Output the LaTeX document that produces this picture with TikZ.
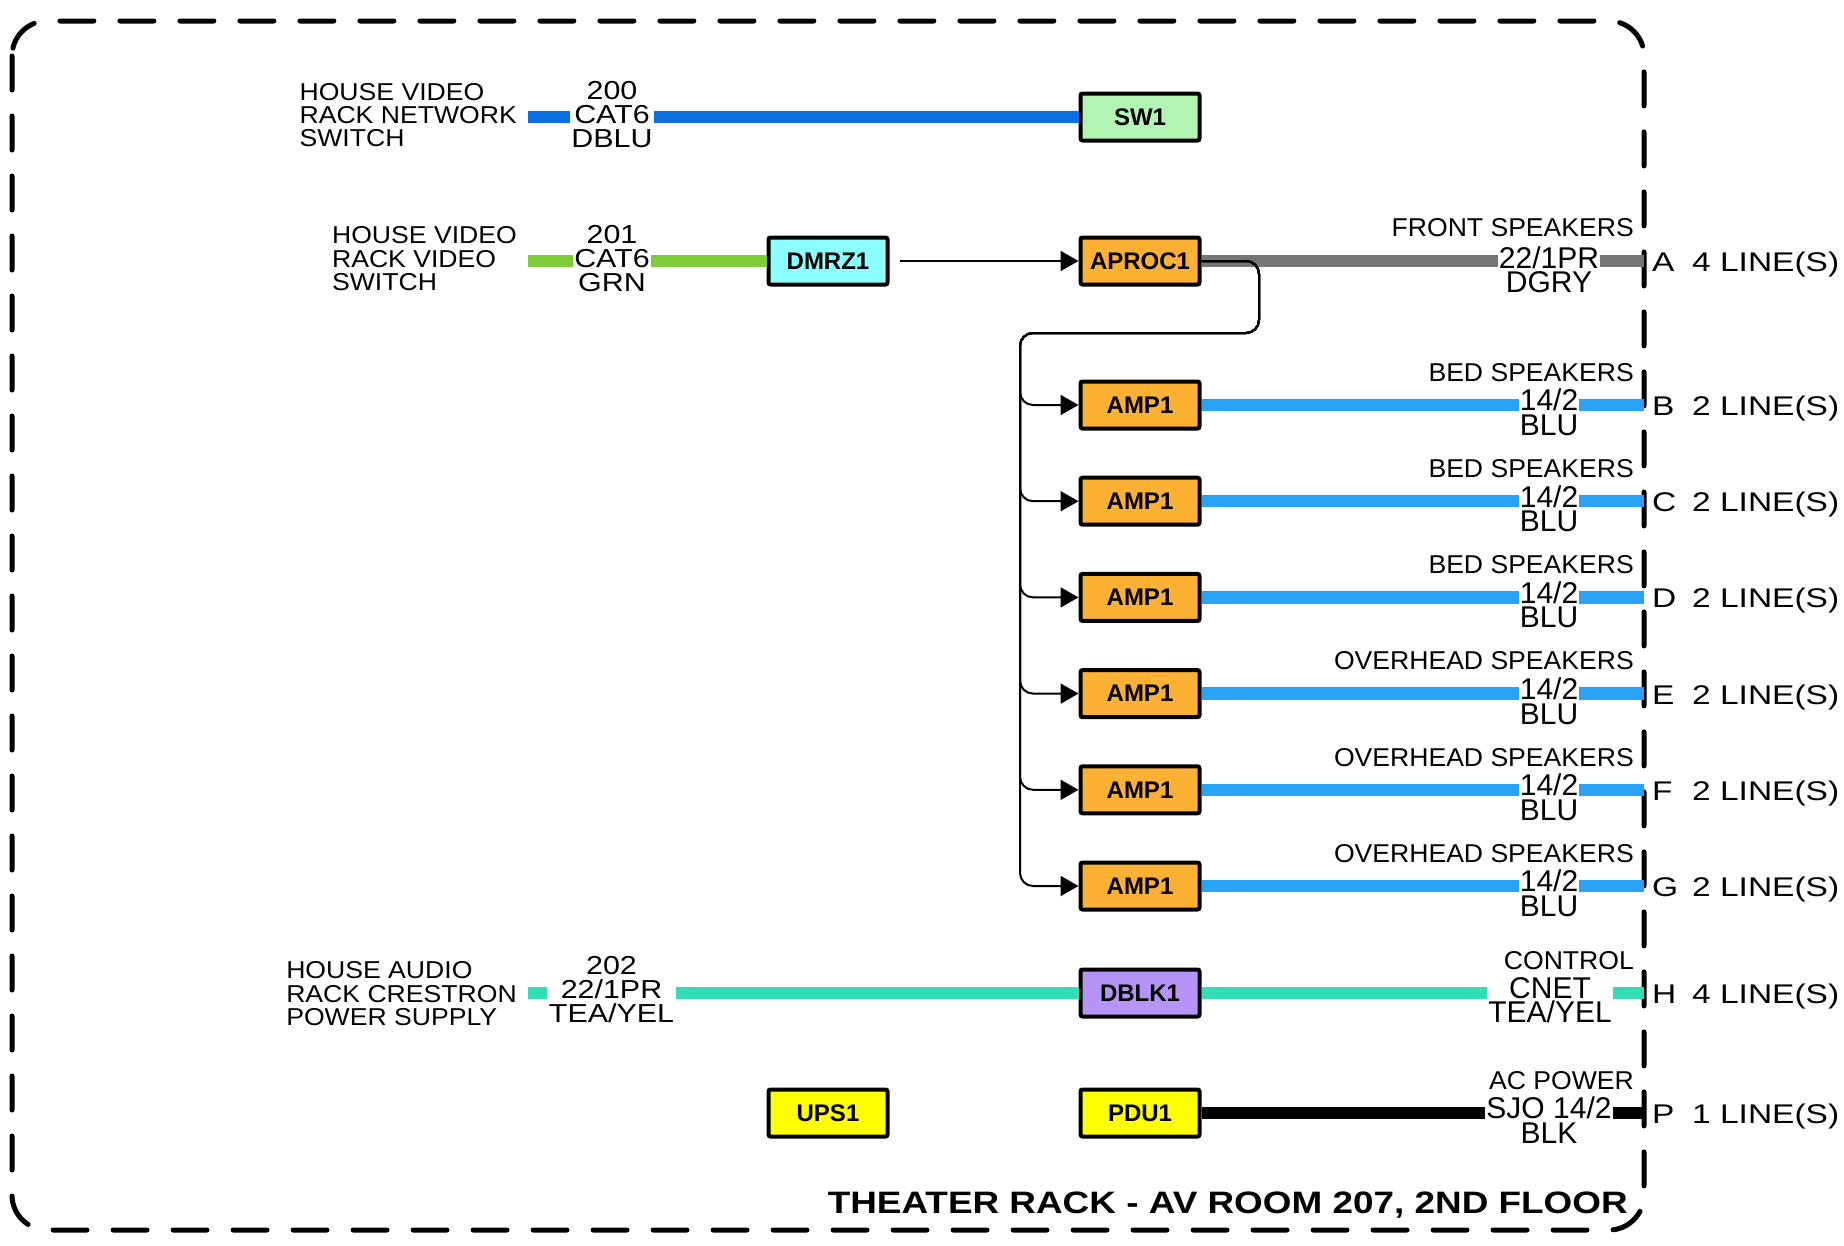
\documentclass[tikz,border=0pt]{standalone}
\usepackage{fontspec}
\setmainfont{Liberation Sans}
\newfontfamily\fleft[FakeStretch=1.09]{Liberation Sans}
\newfontfamily\fmid[FakeStretch=1.17]{Liberation Sans}
\newfontfamily\fright[FakeStretch=1.03]{Liberation Sans}
\newfontfamily\fcnt[FakeStretch=1.24]{Liberation Sans}
\newfontfamily\ftitle[FakeStretch=1.19]{Liberation Sans}
\usetikzlibrary{arrows.meta,calc}
\definecolor{cDBLU}{HTML}{0B6FE3}
\definecolor{cGRN}{HTML}{7DCB37}
\definecolor{cDGRY}{HTML}{757575}
\definecolor{cBLU}{HTML}{29A3F5}
\definecolor{cTEA}{HTML}{33DDB5}
\definecolor{fSW}{HTML}{B2F5B2}
\definecolor{fDM}{HTML}{8CFFFF}
\definecolor{fOR}{HTML}{FCB034}
\definecolor{fPU}{HTML}{B594F5}
\definecolor{fYE}{HTML}{FFFF00}
\begin{document}
\begin{tikzpicture}[x=1pt,y=-1pt,
  box/.style={draw=black, line width=4pt, rounded corners=2pt, minimum width=119pt, minimum height=47pt, inner sep=0pt, font=\fontsize{24}{24}\selectfont\bfseries},
  cable/.style={line width=12.5pt},
  conn/.style={line width=2pt, draw=black},
  lefttxt/.style={align=left, inner sep=0pt, font=\fleft\fontsize{24.4}{23.3}\selectfont},
  midtxt/.style={align=center, inner ysep=0pt, inner xsep=1.5pt, font=\fmid\fontsize{26}{24}\selectfont},
  toptxt/.style={inner sep=0pt, font=\fright\fontsize{25.8}{25.8}\selectfont},
  rmidtxt/.style={align=center, inner ysep=0pt, inner xsep=1pt, font=\fontsize{30}{24.5}\selectfont},
  cnt/.style={inner sep=0pt, font=\fcnt\fontsize{27}{27}\selectfont},
  border/.style={line width=5pt, line cap=round, dash pattern=on 34pt off 26pt}
]
\fill[white] (0,0) rectangle (1844,1245);
\useasboundingbox (0,0) rectangle (1844,1245);

% outer dashed frame
\draw[border, rounded corners=35pt] (12,21) rectangle (1644,1230);

% equipment boxes
\node[box, fill=fSW] (SW1) at (1140,117) {SW1};
\node[box, fill=fDM] (DMRZ1) at (828,261) {DMRZ1};
\node[box, fill=fOR] (APROC1) at (1140,261) {APROC1};
\foreach \i/\y in {1/405,2/501.2,3/597.4,4/693.6,5/789.8,6/886}{
  \node[box, fill=fOR] (amp\i) at (1140,\y) {AMP1};
}
\node[box, fill=fPU] (DBLK1) at (1140,993) {DBLK1};
\node[box, fill=fYE] (UPS1) at (828,1113) {UPS1};
\node[box, fill=fYE] (PDU1) at (1140,1113) {PDU1};

% left source labels
\node[lefttxt, anchor=north east] (src1) at (517,83) {HOUSE VIDEO\\RACK NETWORK\\SWITCH};
\node[lefttxt, anchor=north east] (src2) at (517,226.5) {HOUSE VIDEO\\RACK VIDEO\\SWITCH};
\node[lefttxt, anchor=north east] (src3) at (517,961.5) {HOUSE AUDIO\\RACK CRESTRON\\POWER SUPPLY};

% left cable labels
\node[midtxt, anchor=north] (c200) at (612,81.5) {200\\CAT6\\DBLU};
\node[midtxt, anchor=north] (c201) at (612,225) {201\\CAT6\\GRN};
\node[midtxt, anchor=north] (c202) at (611.5,956.5) {202\\22/1PR\\TEA/YEL};

\coordinate (s200) at (528,117);
\coordinate (s201) at (528,261);
\coordinate (s202) at (528,993);

\draw[cable, cDBLU] (s200) -- (c200.west |- s200);
\draw[cable, cDBLU] (c200.east |- s200) -- (SW1.west);
\draw[cable, cGRN] (s201) -- (c201.west |- s201);
\draw[cable, cGRN] (c201.east |- s201) -- (DMRZ1.west);
\draw[cable, cTEA] (s202) -- (c202.west |- s202);
\draw[cable, cTEA] (c202.east |- s202) -- (DBLK1.west);

% right side: APROC1 row
\node[toptxt, anchor=north east] (tA) at (1634,218.5) {FRONT SPEAKERS};
\node[rmidtxt, anchor=north] (mA) at (1549,246.5) {22/1PR\\DGRY};
\coordinate (eA) at (1644,261);
\draw[cable, cDGRY] (APROC1.east) -- (mA.west |- APROC1.east);
\draw[cable, cDGRY] (mA.east |- APROC1.east) -- (eA);
\node[cnt, anchor=base west] (lA) at (1652,271.5) {A};
\node[cnt, anchor=base west] (nA) at (1692,271.5) {4 LINE(S)};

% right side: amplifier rows
\foreach \i/\y/\L/\T in {1/405/B/BED SPEAKERS,2/501.2/C/BED SPEAKERS,3/597.4/D/BED SPEAKERS,4/693.6/E/OVERHEAD SPEAKERS,5/789.8/F/OVERHEAD SPEAKERS,6/886/G/OVERHEAD SPEAKERS}{
  \node[toptxt, anchor=north east] (t\i) at (1634,\y-42) {\T};
  \node[rmidtxt, anchor=north] (m\i) at (1549,\y-16) {14/2\\BLU};
  \coordinate (e\i) at (1644,\y);
  \draw[cable, cBLU] (amp\i.east) -- (m\i.west |- amp\i.east);
  \draw[cable, cBLU] (m\i.east |- amp\i.east) -- (e\i);
  \node[cnt, anchor=base west] (l\i) at (1652,\y+10.5) {\L};
  \node[cnt, anchor=base west] (n\i) at (1692,\y+10.5) {2 LINE(S)};
}

% right side: DBLK1 row
\node[toptxt, anchor=north east] (tH) at (1634,951) {CONTROL};
\node[rmidtxt, anchor=north] (mH) at (1550,977) {CNET\\TEA/YEL};
\coordinate (eH) at (1644,993);
\draw[cable, cTEA] (DBLK1.east) -- (mH.west |- DBLK1.east);
\draw[cable, cTEA] (mH.east |- DBLK1.east) -- (eH);
\node[cnt, anchor=base west] (lH) at (1652,1003.5) {H};
\node[cnt, anchor=base west] (nH) at (1692,1003.5) {4 LINE(S)};

% right side: PDU1 row
\node[toptxt, anchor=north east] (tP) at (1634,1071.5) {AC POWER};
\node[rmidtxt, anchor=north] (mP) at (1549,1097) {SJO 14/2\\BLK};
\coordinate (eP) at (1644,1113);
\draw[cable, black] (PDU1.east) -- (mP.west |- PDU1.east);
\draw[cable, black] (mP.east |- PDU1.east) -- (eP);
\node[cnt, anchor=base west] (lP) at (1652,1123.5) {P};
\node[cnt, anchor=base west] (nP) at (1692,1123.5) {1 LINE(S)};

% signal connectors
\draw[conn, -{Triangle[length=18pt,width=20pt]}] ([xshift=10pt]DMRZ1.east) -- (APROC1.west);
\coordinate (r1) at (1259,261);
\coordinate (r2) at (1259,333);
\coordinate (r3) at (1020,333);
\foreach \i in {1,...,6}{
  \draw[conn, rounded corners=13pt, -{Triangle[length=18pt,width=20pt]}] (APROC1.east) -- (r1) -- (r2) -- (r3) -- (r3 |- amp\i.west) -- (amp\i.west);
}

% title
\node[anchor=base east, inner sep=0pt, font=\ftitle\fontsize{31}{31}\selectfont\bfseries] (title) at (1628,1213.3) {THEATER RACK - AV ROOM 207, 2ND FLOOR};
\end{tikzpicture}
\end{document}
